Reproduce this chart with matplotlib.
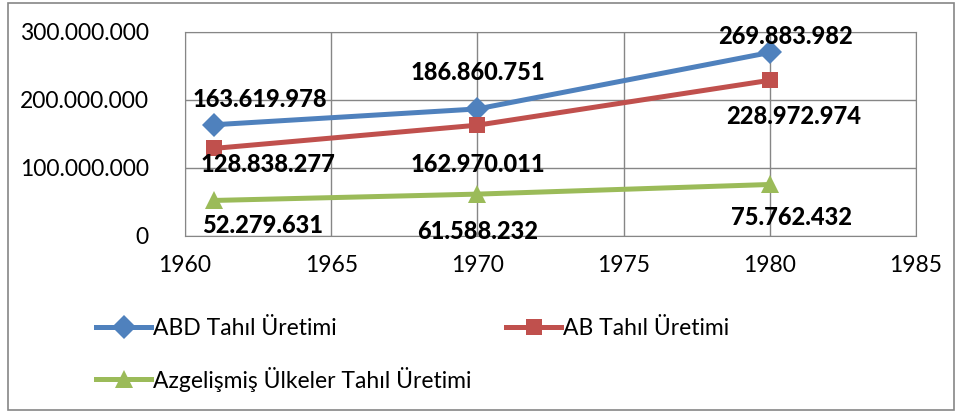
import matplotlib.pyplot as plt
from matplotlib.patches import Rectangle
from matplotlib.ticker import FuncFormatter, MultipleLocator

years = [1961, 1970, 1980]
abd = [163619978, 186860751, 269883982]
ab = [128838277, 162970011, 228972974]
azg = [52279631, 61588232, 75762432]

series_names = ["ABD Tahıl Üretimi", "AB Tahıl Üretimi", "Azgelişmiş Ülkeler Tahıl Üretimi"]

# label offsets in pixels, hand tuned against the reference
abd_off = [(46, 25), (0, 36), (16, 16)]
ab_off = [(54, -16), (0, -39), (24, -36)]
azg_off = [(48, -25), (0, -37), (22, -33)]


def tr_fmt(v, pos):
    return f"{v:,.0f}".replace(",", ".")


plt.rcParams['font.family'] = ['Lato', 'DejaVu Sans']

fig = plt.figure(figsize=(9.62, 4.12), dpi=100)
ax = fig.add_axes([185 / 962, 1 - 236 / 412, (916 - 185) / 962, (236 - 32) / 412])

styles = [
    (abd, "#4F81BD", "D", 12, abd_off),
    (ab, "#C0504D", "s", 12, ab_off),
    (azg, "#9BBB59", "^", 13, azg_off),
]

handles = []
for (vals, col, mk, ms, offs), name in zip(styles, series_names):
    h, = ax.plot(years, vals, color=col, marker=mk, markersize=ms, linewidth=3.6,
                 markeredgewidth=0, label=name, zorder=3)
    handles.append(h)
    for x, y, (dx, dy) in zip(years, vals, offs):
        ax.annotate(tr_fmt(y, None), (x, y), xytext=(dx, dy), textcoords='offset pixels',
                    ha='center', va='center', fontsize=17, fontweight='black', color='black',
                    zorder=4)

ax.set_xlim(1960, 1985)
ax.set_ylim(0, 300000000)
ax.xaxis.set_major_locator(MultipleLocator(5))
ax.yaxis.set_major_locator(MultipleLocator(100000000))
ax.yaxis.set_major_formatter(FuncFormatter(tr_fmt))
ax.grid(True, color="#868686", linewidth=1)
ax.set_axisbelow(True)
for s in ax.spines.values():
    s.set_color("#868686")
ax.tick_params(length=0, labelsize=16.5, colors='black')
ax.tick_params(axis='x', pad=14)
ax.tick_params(axis='y', pad=26)

fig.legend([handles[0], handles[2], handles[1]],
           [series_names[0], series_names[2], series_names[1]],
           ncol=2, loc='upper left', bbox_to_anchor=(96 / 962, 1 - 318 / 412),
           frameon=False, fontsize=16.5, handlelength=2.4, handletextpad=0.1,
           columnspacing=1.5, labelspacing=1.2, borderpad=0, borderaxespad=0)

fig.patches.append(Rectangle((8 / 962, 2 / 412), 946 / 962, 407 / 412,
                             transform=fig.transFigure, fill=False,
                             edgecolor="#868686", linewidth=1.2))

fig.savefig("out.png", dpi=100)
